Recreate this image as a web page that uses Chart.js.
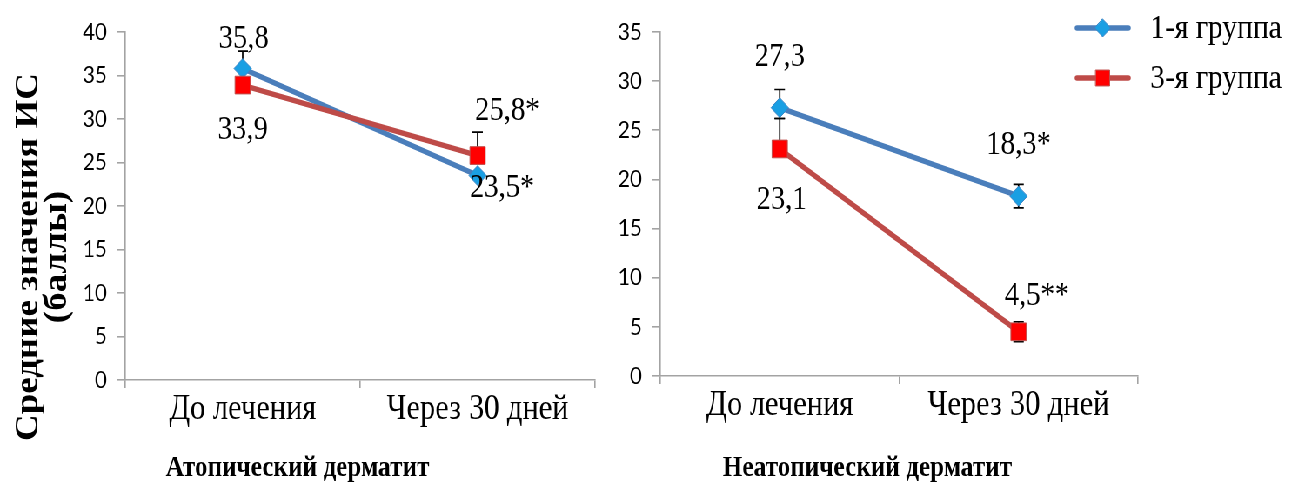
<!DOCTYPE html>
<html>
<head>
<meta charset="utf-8">
<script src="https://cdn.jsdelivr.net/npm/chart.js@4.4.0/dist/chart.umd.min.js"></script>
<style>
  html, body { margin: 0; padding: 0; background: #fff; }
  #frame { position: relative; width: 1293px; height: 486px; overflow: hidden; background: #fff; }
  /* the two panels are laid out on a wider sheet that is condensed horizontally */
  #sheet { position: absolute; left: 0; top: 0; width: 1486px; height: 486px;
           transform: scaleX(0.87); transform-origin: 0 0; }
  #atopic { position: absolute; left: 0; top: 0; }
  #nonatopic { position: absolute; left: 686px; top: 0; }
</style>
</head>
<body>
<div id="frame">
  <div id="sheet">
    <canvas id="atopic" width="701" height="486"></canvas>
    <canvas id="nonatopic" width="800" height="486"></canvas>
  </div>
</div>
<script>
// ---- data ----
const categories = ['До лечения', 'Через 30 дней'];
const seriesNames = ['1-я группа', '3-я группа'];

// Атопический дерматит
const atopicGroup1 = [35.8, 23.5];
const atopicGroup3 = [33.9, 25.8];
const atopicGroup1ErrUp = [2.0, 0];
const atopicGroup1ErrDown = [2.0, 0];
const atopicGroup3ErrUp = [0, 2.7];
const atopicGroup3ErrDown = [0, 0];
const atopicGroup1Marks = ['', '*'];
const atopicGroup3Marks = ['', '*'];

// Неатопический дерматит
const nonAtopicGroup1 = [27.3, 18.3];
const nonAtopicGroup3 = [23.1, 4.5];
const nonAtopicGroup1ErrUp = [1.85, 1.2];
const nonAtopicGroup1ErrDown = [1.1, 1.2];
const nonAtopicGroup3ErrUp = [3.1, 1.0];
const nonAtopicGroup3ErrDown = [0, 1.0];
const nonAtopicGroup1Marks = ['', '*'];
const nonAtopicGroup3Marks = ['', '**'];

const yTickStep = 5;
const atopicYMax = 40;
const nonAtopicYMax = 35;

const panelTitles = ['Атопический дерматит', 'Неатопический дерматит'];
const yAxisTitle = ['Средние значения ИС', '(баллы)'];

// ---- styles ----
const SERIF = '"Liberation Serif", "Times New Roman", serif';
const SANS = 'Lato, "Liberation Sans", Arial, sans-serif';
const AXIS_GREY = '#a3a3a3';
const BLUE_LINE = '#4a7ebb';
const BLUE_MARK = '#1a9fe3';
const RED_LINE = '#be4b48';
const RED_MARK = '#ff0000';

function fmt(v, mark) {
  return v.toFixed(1).replace('.', ',') + (mark || '');
}

// Error bars drawn under the lines and markers
const errorBarPlugin = {
  id: 'errorBars',
  beforeDatasetsDraw(chart) {
    const ctx = chart.ctx;
    const y = chart.scales.y;
    ctx.save();
    ctx.strokeStyle = '#000';
    ctx.lineWidth = 1.7;
    chart.data.datasets.forEach((ds, di) => {
      const meta = chart.getDatasetMeta(di);
      meta.data.forEach((pt, i) => {
        const v = ds.data[i];
        const up = ds.errUp[i] || 0;
        const dn = ds.errDown[i] || 0;
        if (!up && !dn) return;
        const yt = y.getPixelForValue(v + up);
        const yb = y.getPixelForValue(v - dn);
        ctx.beginPath();
        ctx.moveTo(pt.x, yt);
        ctx.lineTo(pt.x, yb);
        if (up) { ctx.moveTo(pt.x - 6, yt); ctx.lineTo(pt.x + 6, yt); }
        if (dn) { ctx.moveTo(pt.x - 6, yb); ctx.lineTo(pt.x + 6, yb); }
        ctx.stroke();
      });
    });
    ctx.restore();
  }
};

// Value labels next to each point
const valueLabelPlugin = {
  id: 'valueLabels',
  afterDatasetsDraw(chart, args, opts) {
    const ctx = chart.ctx;
    ctx.save();
    ctx.fillStyle = '#000';
    ctx.font = '33px ' + SERIF;
    ctx.textAlign = 'center';
    ctx.textBaseline = 'middle';
    chart.data.datasets.forEach((ds, di) => {
      const meta = chart.getDatasetMeta(di);
      meta.data.forEach((pt, i) => {
        const off = opts.offsets[di][i];
        ctx.fillText(fmt(ds.data[i], ds.marks[i]), pt.x + off[0], pt.y + off[1]);
      });
    });
    ctx.restore();
  }
};

// Rotated y-axis caption
const yCaptionPlugin = {
  id: 'yCaption',
  afterDraw(chart, args, opts) {
    if (!opts.show) return;
    const ctx = chart.ctx;
    ctx.save();
    ctx.fillStyle = '#000';
    ctx.font = 'bold ' + opts.size + 'px ' + SERIF;
    ctx.textAlign = 'center';
    ctx.textBaseline = 'middle';
    opts.lines.forEach((line, k) => {
      ctx.save();
      ctx.translate(opts.x + k * opts.gap, opts.cy);
      ctx.rotate(-Math.PI / 2);
      ctx.fillText(line, 0, 0);
      ctx.restore();
    });
    ctx.restore();
  }
};

// Legend: line segment with the series marker, then the series name
const lineLegendPlugin = {
  id: 'lineLegend',
  afterDraw(chart, args, opts) {
    if (!opts.show) return;
    const ctx = chart.ctx;
    ctx.save();
    chart.data.datasets.forEach((ds, di) => {
      const k = opts.order.indexOf(di);
      const cy = opts.y + k * opts.rowGap;
      const mx = opts.x + opts.len / 2;
      ctx.strokeStyle = ds.borderColor;
      ctx.lineWidth = 5.5;
      ctx.lineCap = 'round';
      ctx.beginPath();
      ctx.moveTo(opts.x, cy);
      ctx.lineTo(opts.x + opts.len, cy);
      ctx.stroke();
      ctx.fillStyle = ds.pointBackgroundColor;
      ctx.strokeStyle = ds.pointBorderColor;
      ctx.lineWidth = 1;
      ctx.beginPath();
      const r = ds.pointRadius * 0.9;
      if (ds.pointStyle === 'rectRot') {
        ctx.moveTo(mx, cy - r); ctx.lineTo(mx + r, cy); ctx.lineTo(mx, cy + r); ctx.lineTo(mx - r, cy); ctx.closePath();
      } else {
        const h = r * Math.SQRT1_2;
        ctx.rect(mx - h, cy - h, 2 * h, 2 * h);
      }
      ctx.fill();
      ctx.stroke();
      ctx.fillStyle = '#000';
      ctx.font = opts.size + 'px ' + SERIF;
      ctx.textAlign = 'left';
      ctx.textBaseline = 'middle';
      ctx.fillText(ds.label, opts.x + opts.len + opts.textGap, cy + 1);
    });
    ctx.restore();
  }
};

function makeDatasets(g1, g3, e1u, e1d, e3u, e3d, m1, m3) {
  return [
    {
      label: seriesNames[0], data: g1, errUp: e1u, errDown: e1d, marks: m1,
      borderColor: BLUE_LINE, borderWidth: 5.5,
      pointStyle: 'rectRot', pointRadius: 10,
      pointBackgroundColor: BLUE_MARK, pointBorderColor: '#3d85c6', pointBorderWidth: 1,
      order: 1, tension: 0
    },
    {
      label: seriesNames[1], data: g3, errUp: e3u, errDown: e3d, marks: m3,
      borderColor: RED_LINE, borderWidth: 5.5,
      pointStyle: 'rect', pointRadius: 12.5,
      pointBackgroundColor: RED_MARK, pointBorderColor: '#c0504d', pointBorderWidth: 1,
      order: 0, tension: 0
    }
  ];
}

const TITLE_SIZE = 29;
const TITLE_LH = 1.2;

function makeOptions(cfg) {
  return {
    responsive: false,
    animation: false,
    devicePixelRatio: 1,
    events: [],
    layout: { padding: { top: cfg.padTop, right: cfg.padRight, left: 0, bottom: 0 } },
    plugins: {
      legend: { display: false },
      tooltip: { enabled: false },
      title: {
        display: true, position: 'bottom', text: cfg.title, color: '#000',
        font: { family: SERIF, size: TITLE_SIZE, weight: 'bold', lineHeight: TITLE_LH },
        padding: { top: 0, bottom: 0 }
      },
      valueLabels: { offsets: cfg.labelOffsets },
      yCaption: cfg.caption,
      lineLegend: cfg.legend
    },
    scales: {
      x: {
        type: 'category',
        offset: true,
        grid: { offset: true, drawOnChartArea: false, drawTicks: true, tickLength: 8, color: AXIS_GREY, lineWidth: 1.6 },
        border: { display: true, color: AXIS_GREY, width: 1.6 },
        ticks: { color: '#000', font: { family: SERIF, size: 35, lineHeight: 1.2 }, padding: 1, maxRotation: 0, autoSkip: false },
        afterFit(s) { s.height = cfg.xHeight; }
      },
      y: {
        min: 0, max: cfg.yMax,
        grid: { drawOnChartArea: false, drawTicks: true, tickLength: 10, color: AXIS_GREY, lineWidth: 1.6 },
        border: { display: true, color: AXIS_GREY, width: 1.6 },
        ticks: { stepSize: yTickStep, color: '#000', font: { family: SANS, size: 24 }, padding: 11 },
        afterFit(s) { s.width = cfg.yWidth; }
      }
    }
  };
}

const plugins = [errorBarPlugin, valueLabelPlugin, yCaptionPlugin, lineLegendPlugin];
const titleBoxH = TITLE_SIZE * TITLE_LH;

new Chart(document.getElementById('atopic'), {
  type: 'line',
  data: {
    labels: categories,
    datasets: makeDatasets(atopicGroup1, atopicGroup3,
      atopicGroup1ErrUp, atopicGroup1ErrDown, atopicGroup3ErrUp, atopicGroup3ErrDown,
      atopicGroup1Marks, atopicGroup3Marks)
  },
  options: makeOptions({
    title: panelTitles[0], yMax: atopicYMax,
    padTop: 32, padRight: 17, yWidth: 144, xHeight: 486 - titleBoxH - 380,
    labelOffsets: [[[1, -29], [28, 13]], [[0, 45], [34, -44]]],
    caption: { show: true, lines: yAxisTitle, x: 33, gap: 33, cy: 257, size: 37 },
    legend: { show: false }
  }),
  plugins
});

new Chart(document.getElementById('nonatopic'), {
  type: 'line',
  data: {
    labels: categories,
    datasets: makeDatasets(nonAtopicGroup1, nonAtopicGroup3,
      nonAtopicGroup1ErrUp, nonAtopicGroup1ErrDown, nonAtopicGroup3ErrUp, nonAtopicGroup3ErrDown,
      nonAtopicGroup1Marks, nonAtopicGroup3Marks)
  },
  options: makeOptions({
    title: panelTitles[1], yMax: nonAtopicYMax,
    padTop: 32, padRight: 178, yWidth: 73, xHeight: 486 - titleBoxH - 376,
    labelOffsets: [[[0, -50], [0, -51]], [[2, 51], [21, -35]]],
    caption: { show: false },
    legend: { show: true, x: 552, len: 59, textGap: 25, y: 28, rowGap: 50, order: [0, 1], size: 34 }
  }),
  plugins
});
</script>
</body>
</html>
